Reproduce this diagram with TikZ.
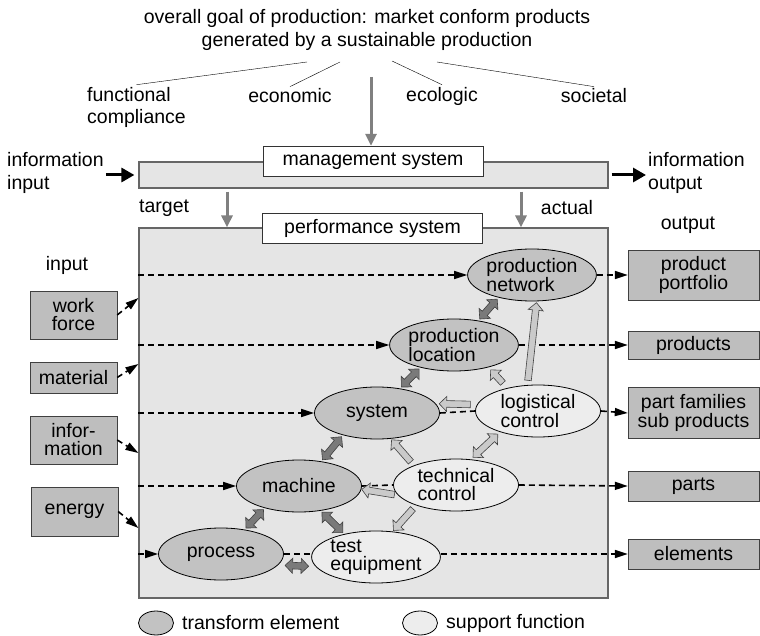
\documentclass[tikz,border=0pt]{standalone}
\usepackage{fontspec}
\setmainfont{Liberation Sans}
\usetikzlibrary{calc,arrows.meta,shapes.geometric,shapes.arrows}

\definecolor{panelgray}{RGB}{229,229,229}
\definecolor{transgray}{RGB}{194,194,194}
\definecolor{suppgray}{RGB}{237,237,237}
\definecolor{boxgray}{RGB}{190,190,190}
\definecolor{darkarrow}{RGB}{122,122,122}
\definecolor{lightarrow}{RGB}{202,202,202}
\definecolor{flowgray}{RGB}{128,128,128}

% block arrow between two border points, #1 = gap at each end
\newcommand\blockarrow[4][2]{\path let \p1=(#3), \p2=(#4), \n1={atan2(\y2-\y1,\x2-\x1)}, \n2={veclen(\x2-\x1,\y2-\y1)-2*#1} in node[#2, minimum height=\n2, rotate=\n1] at ($(\p1)!0.5!(\p2)$) {};}

\begin{document}
\begin{tikzpicture}[x=1pt, y=-1pt,
		lbl/.style={font=\fontsize{19.5}{23}\selectfont, inner sep=2pt, align=left},
		inbox/.style={draw=black!75, fill=boxgray, font=\fontsize{19.5}{18}\selectfont, align=center, minimum width=87pt, inner sep=0pt},
		outbox/.style={inbox, minimum width=131pt},
		trans/.style={ellipse, draw, line width=0.8pt, fill=transgray, minimum width=125pt, minimum height=52pt, inner sep=0pt, align=left, font=\fontsize{19.5}{18}\selectfont},
		supp/.style={trans, fill=suppgray},
		sysbox/.style={draw=black!80, fill=white, minimum width=220pt, minimum height=30pt, inner sep=0pt, font=\fontsize{19.5}{23}\selectfont},
		panel/.style={fill=panelgray, draw=black!60, line width=1.2pt, minimum width=469pt, inner sep=0pt},
		dashline/.style={dash pattern=on 6pt off 4pt, line width=1.6pt},
		dasharrow/.style={dashline, -{Triangle[length=13pt,width=8pt]}},
		flow/.style={flowgray, line width=3pt, -{Triangle[length=12pt,width=11pt]}},
		infoarrow/.style={black, line width=3pt, -{Triangle[length=13pt,width=14pt]}},
		darr/.style={double arrow, draw=black!75, line width=0.6pt, fill=darkarrow, inner xsep=0pt, inner ysep=3pt, double arrow head extend=4.2pt},
		larr/.style={single arrow, draw=black!75, line width=0.6pt, fill=lightarrow, inner xsep=0pt, inner ysep=3pt, single arrow head extend=4.2pt},
		dlarr/.style={darr, fill=lightarrow}]
	%%%%% START %%%%%
	\useasboundingbox (0,0) rectangle (760,636);

	% goal
	\node[lbl, align=center] (title) at (367,29.5) {overall goal of production: market conform products\\generated by a sustainable production};
	\node[lbl, anchor=west, font=\fontsize{19.5}{22}\selectfont] (func) at (85,107) {functional\\compliance};
	\node[lbl] (econ) at (290,96) {economic};
	\node[lbl] (ecol) at (442,96) {ecologic};
	\node[lbl] (soc) at (594,96) {societal};
	\coordinate (g0) at (371,77);
	\coordinate (g1) at (307,62);
	\coordinate (g2) at (340,62);
	\coordinate (g3) at (392,61);
	\coordinate (g4) at (437,62);
	\draw (g1) -- (func.north);
	\draw (g2) -- (econ.north);
	\draw (g3) -- (ecol.north);
	\draw (g4) -- (soc.north);

	% management and performance
	\node[panel, minimum height=370pt] (perf) at (373.5,413) {};
	\node[panel, minimum height=26pt] (mgmt) at (373.5,175) {};
	\node[sysbox] (mlabel) at (373,161) {management system};
	\node[sysbox] (plabel) at (372.5,228) {performance system};

	\node[lbl, anchor=west] (infoin) at (5,172.5) {information\\input};
	\node[lbl, anchor=west] (infoout) at (646,172.5) {information\\output};
	\node[lbl, anchor=west] (target) at (137,208) {target};
	\node[lbl] (actual) at (567,208) {actual};
	\node[lbl] (inp) at (67,265) {input};
	\node[lbl] (outp) at (688,225) {output};

	\draw[flow] (g0) -- (g0 |- mlabel.north);
	\draw[infoarrow, shorten >=4pt] (infoin.east |- mgmt.west) -- (mgmt.west);
	\draw[infoarrow, shorten <=3pt] (mgmt.east) -- (infoout.west |- mgmt.east);
	\draw[flow, shorten <=3pt] ([xshift=-146.5pt]mgmt.south) -- ([xshift=-146.5pt]perf.north);
	\draw[flow, shorten <=3pt] ([xshift=147.5pt]mgmt.south) -- ([xshift=147.5pt]perf.north);

	% elements
	\node[trans] (pnet) at (532,275) {production\\network};
	\node[trans] (ploc) at (454,345) {production\\location};
	\node[supp] (logc) at (538,411) {logistical\\control};
	\node[trans] (sys) at (377,413) {system};
	\node[supp] (techc) at (456,485) {technical\\control};
	\node[trans] (mach) at (299,486) {machine};
	\node[trans] (proc) at (221,554) {process};
	\node[supp] (teste) at (376,557) {test\\equipment};

	% input and output
	\node[inbox, minimum height=48pt] (wf) at (73.5,315) {work\\force};
	\node[inbox, minimum height=31pt] (mat) at (73.5,377.5) {material};
	\node[inbox, minimum height=48pt] (info) at (73.5,440) {infor-\\mation};
	\node[inbox, minimum height=49pt] (enrg) at (74.5,511.5) {energy};

	\node[outbox, minimum height=50pt] (pp) at (693.5,275) {product\\portfolio};
	\node[outbox, minimum height=28pt] (prods) at (693.5,345) {products};
	\node[outbox, minimum height=51pt] (pf) at (693.5,413) {part families\\sub products};
	\node[outbox, minimum height=30pt] (parts) at (693.5,486) {parts};
	\node[outbox, minimum height=30pt] (elem) at (693.5,554) {elements};

	\draw[dasharrow] (wf.east) -- ($(perf.west |- wf.east)+(0,-17)$);
	\draw[dasharrow] (mat.east) -- ($(perf.west |- mat.east)+(0,-13.5)$);
	\draw[dasharrow] (info.east) -- ($(perf.west |- info.east)+(0,13)$);
	\draw[dasharrow] (enrg.east) -- ($(perf.west |- enrg.east)+(0,16.5)$);

	\draw[dasharrow] (perf.west |- pnet.west) -- (pnet.west);
	\draw[dasharrow] (perf.west |- ploc.west) -- (ploc.west);
	\draw[dasharrow] (perf.west |- sys.west) -- (sys.west);
	\draw[dasharrow] (perf.west |- mach.west) -- (mach.west);
	\draw[dasharrow] (perf.west |- proc.west) -- (proc.west);

	\draw[dasharrow] (pnet.east) -- (pp.west);
	\draw[dasharrow] (ploc.east) -- (prods.west);
	\draw[dashline] (sys.east) -- (logc.west);
	\draw[dasharrow] (logc.east) -- (pf.west);
	\draw[dashline] (mach.east) -- (techc.west);
	\draw[dasharrow] (techc.east) -- (parts.west);
	\draw[dashline] (proc.east) -- (teste.west |- proc.east);
	\draw[dasharrow] (teste.east |- elem.west) -- (elem.west);

	% exchange between elements
	\blockarrow{darr}{pnet.214}{ploc.45}
	\blockarrow{darr}{ploc.214}{sys.47}
	\blockarrow{darr}{sys.213}{mach.48}
	\blockarrow{darr}{mach.213}{proc.46}
	\blockarrow{darr}{mach.311}{teste.144}
	\blockarrow[7]{darr}{proc.-11}{teste.189}

	\blockarrow[3]{larr}{logc.112}{pnet.280}
	\blockarrow[5]{larr}{logc.143}{ploc.327}
	\blockarrow[5]{larr}{logc.174}{sys.9}
	\blockarrow[3]{dlarr}{techc.60}{logc.209}
	\blockarrow[3]{larr}{techc.155}{sys.298}
	\blockarrow[2]{larr}{techc.190}{mach.357}
	\blockarrow[3]{larr}{techc.207}{teste.57}

	% legend
	\node[trans, minimum width=35pt, minimum height=24pt] (lgt) at (156,623) {};
	\node[lbl, anchor=west] (lgttext) at (180,623) {transform element};
	\node[supp, minimum width=35pt, minimum height=24pt] (lgs) at (420,623) {};
	\node[lbl, anchor=west] (lgstext) at (444,623) {support function};

	%%%%% END %%%%%
\end{tikzpicture}
\end{document}
